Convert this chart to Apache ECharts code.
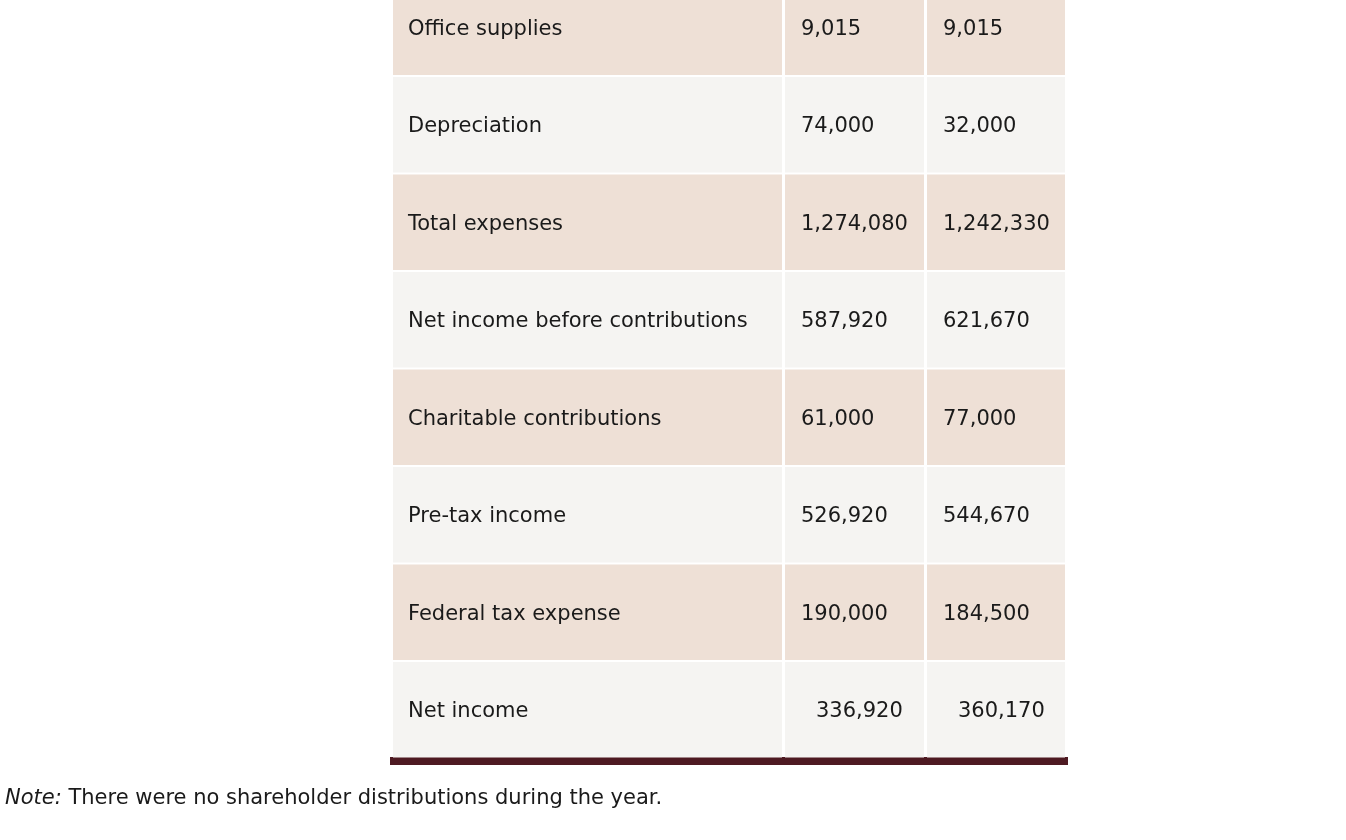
<!DOCTYPE html>
<html>
<head>
<meta charset="utf-8">
<script src="https://cdn.jsdelivr.net/npm/echarts@6/dist/echarts.min.js"></script>
<style>
html,body{margin:0;padding:0;background:#fff;}
#chart{width:1346px;height:840px;}
</style>
</head>
<body>
<div id="chart"></div>
<script>
// ---- data ----
var rowLabels = [
  "Office supplies",
  "Depreciation",
  "Total expenses",
  "Net income before contributions",
  "Charitable contributions",
  "Pre-tax income",
  "Federal tax expense",
  "Net income"
];
var valuesA = [9015, 74000, 1274080, 587920, 61000, 526920, 190000, 336920];
var valuesB = [9015, 32000, 1242330, 621670, 77000, 544670, 184500, 360170];
var noteLabel = "Note:";
var noteText = "There were no shareholder distributions during the year.";

// ---- layout / style (not data) ----
var colEdges = [[3, 392], [395, 534], [537, 675]];
var colTextX = [18, 411, 553];
var lastRowShift = 15;
var hiddenTop = 0.2205;
var textDy = 2;
var rowColors = ["#eee0d6", "#f5f4f2"];
var font = "DejaVu Sans";
var fontSize = 21;

function fmt(v) { return v.toLocaleString("en-US"); }

var cells = [];
for (var r = 0; r < rowLabels.length; r++) {
  cells.push([r, 0, rowLabels[r]]);
  cells.push([r, 1, fmt(valuesA[r])]);
  cells.push([r, 2, fmt(valuesB[r])]);
}

var chart = echarts.init(document.getElementById("chart"));
chart.setOption({
  animation: false,
  backgroundColor: "#ffffff",
  title: {
    text: "{i|" + noteLabel + "} " + noteText,
    left: 5,
    top: 788,
    padding: 0,
    textStyle: {
      fontFamily: font,
      fontSize: fontSize,
      fontWeight: "normal",
      color: "#1a1a1a",
      rich: { i: { fontStyle: "italic", fontFamily: font, fontSize: fontSize, color: "#1a1a1a" } }
    }
  },
  grid: { left: 390, width: 678, top: 0, height: 758.5 },
  xAxis: {
    type: "value", min: 0, max: 678, position: "bottom", offset: 2.5,
    axisLine: { show: true, lineStyle: { color: "#4e1a22", width: 8, cap: "butt" } },
    axisTick: { show: false }, axisLabel: { show: false }, splitLine: { show: false }
  },
  yAxis: {
    type: "value", inverse: true, min: hiddenTop, max: rowLabels.length,
    axisLine: { show: false }, axisTick: { show: false }, axisLabel: { show: false }, splitLine: { show: false }
  },
  series: [{
    type: "custom",
    clip: true,
    data: cells,
    encode: { y: 0 },
    renderItem: function (params, api) {
      var row = api.value(0);
      var col = api.value(1);
      var txt = cells[params.dataIndex][2];
      var yTop = api.coord([0, row])[1];
      var yBot = api.coord([0, row + 1])[1];
      var x0 = api.coord([colEdges[col][0], row])[0];
      var x1 = api.coord([colEdges[col][1], row])[0];
      var tx = api.coord([colTextX[col] + (row === rowLabels.length - 1 && col > 0 ? lastRowShift : 0), row])[0];
      return {
        type: "group",
        children: [
          {
            type: "rect",
            shape: { x: x0, y: yTop + 1, width: x1 - x0, height: yBot - yTop - 2 },
            style: { fill: rowColors[row % 2] }
          },
          {
            type: "text",
            style: {
              x: tx, y: (yTop + yBot) / 2 + textDy, text: txt,
              fontFamily: font, fontSize: fontSize,
              fill: "#1a1a1a", align: "left", verticalAlign: "middle"
            }
          }
        ]
      };
    }
  }]
});
</script>
</body>
</html>
